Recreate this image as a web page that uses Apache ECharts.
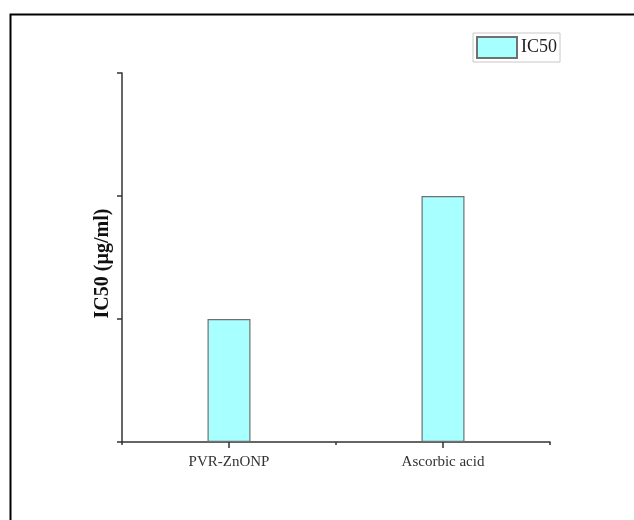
<!DOCTYPE html>
<html>
<head>
<meta charset="utf-8">
<script src="https://cdn.jsdelivr.net/npm/echarts@6/dist/echarts.min.js"></script>
<style>
  html, body { margin: 0; padding: 0; background: #fff; }
  #chart { width: 634px; height: 520px; }
</style>
</head>
<body>
<div id="chart"></div>
<script>
// IC50 values per sample
const categories = ['PVR-ZnONP', 'Ascorbic acid'];
const ic50Values = [10, 20];
const seriesName = 'IC50';
const yAxisTitle = 'IC50 (µg/ml)';

const serif = '"Liberation Serif", "Times New Roman", serif';
const axisColor = '#333';

const chart = echarts.init(document.getElementById('chart'), null, { renderer: 'canvas' });

chart.setOption({
  backgroundColor: '#fff',
  animation: false,
  graphic: [{
    type: 'rect',
    left: 8, top: 12,
    shape: { width: 640, height: 540 },
    style: { fill: 'none', stroke: '#000', lineWidth: 2 },
    silent: true,
    z: -1
  }],
  legend: {
    data: [seriesName],
    left: 473, top: 33,
    itemWidth: 40, itemHeight: 21,
    itemGap: 4,
    padding: [3, 3, 3, 3],
    borderColor: '#c8c8c8', borderWidth: 1,
    icon: 'rect',
    textStyle: { fontFamily: serif, fontSize: 18, color: '#222', padding: [0, 0, 0, -1] }
  },
  grid: { left: 122, right: 84, top: 73, bottom: 78, containLabel: false },
  xAxis: [{
    type: 'category',
    data: categories,
    position: 'bottom',
    axisLine: { show: true, lineStyle: { color: axisColor, width: 1.5 } },
    axisTick: { show: true, alignWithLabel: true, length: 6, lineStyle: { color: axisColor, width: 1.5 } },
    axisLabel: { fontFamily: serif, fontSize: 15, color: '#333', margin: 13 }
  }, {
    type: 'category',
    data: categories,
    position: 'bottom',
    axisLine: { show: false },
    axisTick: { show: true, alignWithLabel: false, length: 3, lineStyle: { color: axisColor, width: 1.5 } },
    axisLabel: { show: false }
  }],
  yAxis: {
    type: 'value',
    min: 0, max: 30, interval: 10,
    name: yAxisTitle,
    nameLocation: 'middle',
    nameGap: 9,
    nameTextStyle: { fontFamily: serif, fontSize: 20, fontWeight: 'bold', color: '#111', padding: [0, 0, 0, -12] },
    axisLine: { show: true, lineStyle: { color: axisColor, width: 1.5 } },
    axisTick: { show: true, length: 5, lineStyle: { color: axisColor, width: 1.5 } },
    axisLabel: { show: false },
    splitLine: { show: false }
  },
  series: [{
    name: seriesName,
    type: 'bar',
    xAxisIndex: 0,
    data: ic50Values,
    barWidth: 43,
    itemStyle: { color: '#A8FFFF', borderColor: '#707070', borderWidth: 1.2 }
  }]
});
</script>
</body>
</html>
